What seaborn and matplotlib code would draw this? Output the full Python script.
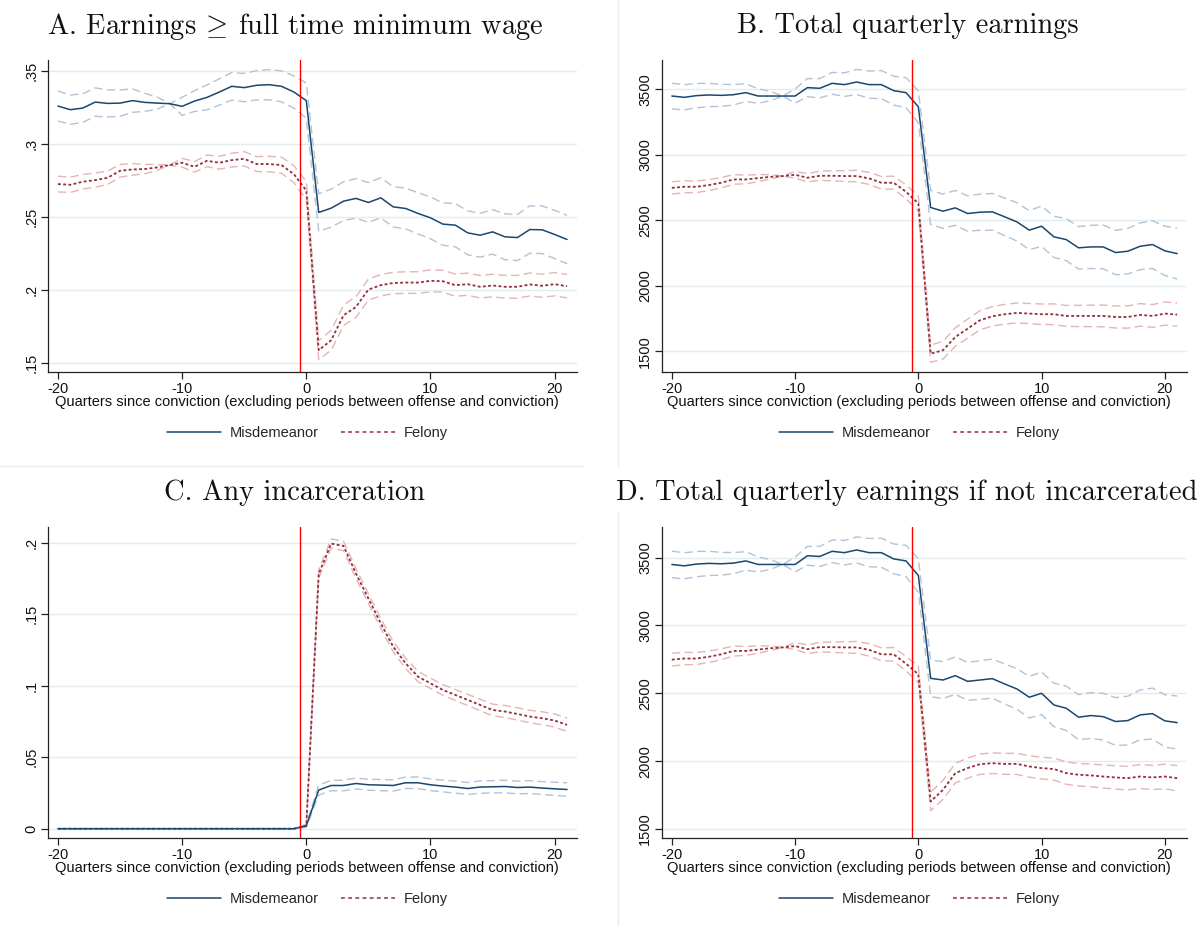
import numpy as np
import pandas as pd
import matplotlib
matplotlib.use("Agg")
import matplotlib.pyplot as plt
from matplotlib.lines import Line2D
import seaborn as sns

# ---------------------------------------------------------------- data
quarters = list(range(-20, 22))

# Panel A: share with earnings >= full-time minimum wage
a_misd = [0.3258, 0.3233, 0.3244, 0.3285, 0.3276, 0.3278, 0.3295, 0.3283, 0.3278, 0.3274,
          0.3256, 0.3292, 0.3317, 0.3354, 0.3393, 0.3384, 0.3400, 0.3404, 0.3393, 0.3354,
          0.3295,
          0.2530, 0.2559, 0.2607, 0.2626, 0.2598, 0.2630, 0.2568, 0.2557, 0.2523, 0.2493,
          0.2450, 0.2443, 0.2390, 0.2374, 0.2397, 0.2363, 0.2358, 0.2413, 0.2411, 0.2379, 0.2345]
a_misd_hw = [0.0103, 0.0100, 0.0098, 0.0097, 0.0093, 0.0090, 0.0080, 0.0062, 0.0041, 0.0,
             0.0062, 0.0071, 0.0085, 0.0090, 0.0094, 0.0097, 0.0100, 0.0103, 0.0106, 0.0110,
             0.0120,
             0.0128, 0.0130, 0.0133, 0.0135, 0.0136, 0.0137, 0.0138, 0.0139, 0.0141, 0.0143,
             0.0145, 0.0148, 0.0150, 0.0150, 0.0152, 0.0157, 0.0158, 0.0162, 0.0163, 0.0165, 0.0166]
a_fel = [0.2724, 0.2719, 0.2740, 0.2751, 0.2767, 0.2815, 0.2824, 0.2827, 0.2838, 0.2854,
         0.2870, 0.2842, 0.2883, 0.2870, 0.2888, 0.2897, 0.2861, 0.2861, 0.2854, 0.2792,
         0.2680,
         0.1587, 0.1655, 0.1826, 0.1883, 0.2002, 0.2032, 0.2047, 0.2050, 0.2050, 0.2062,
         0.2059, 0.2032, 0.2039, 0.2021, 0.2030, 0.2021, 0.2021, 0.2037, 0.2028, 0.2039, 0.2025]
a_fel_hw = [0.0054, 0.0052, 0.0050, 0.0048, 0.0046, 0.0043, 0.0040, 0.0032, 0.0020, 0.0,
            0.0030, 0.0036, 0.0040, 0.0044, 0.0047, 0.0049, 0.0051, 0.0053, 0.0055, 0.0058,
            0.0062,
            0.0065, 0.0068, 0.0070, 0.0071, 0.0072, 0.0073, 0.0073, 0.0074, 0.0074, 0.0075,
            0.0075, 0.0076, 0.0076, 0.0077, 0.0077, 0.0078, 0.0078, 0.0079, 0.0079, 0.0080, 0.0080]

# Panel B: total quarterly earnings
b_misd = [3449, 3439, 3452, 3457, 3454, 3459, 3475, 3449, 3449, 3449,
          3449, 3513, 3508, 3546, 3536, 3556, 3536, 3536, 3490, 3475,
          3367,
          2598, 2570, 2595, 2552, 2562, 2565, 2527, 2488, 2425, 2455,
          2374, 2353, 2290, 2297, 2297, 2254, 2264, 2302, 2315, 2267, 2246]
b_misd_hw = [98, 96, 93, 89, 84, 78, 68, 55, 36, 0,
             54, 69, 74, 83, 90, 96, 104, 107, 110, 115,
             122,
             130, 131, 133, 135, 138, 140, 143, 146, 149, 154,
             157, 160, 162, 165, 167, 169, 174, 178, 182, 188, 194]
b_fel = [2748, 2756, 2756, 2769, 2787, 2812, 2812, 2822, 2832, 2838,
         2848, 2825, 2840, 2840, 2838, 2838, 2820, 2787, 2787, 2718,
         2629,
         1482, 1508, 1609, 1673, 1737, 1767, 1783, 1793, 1788, 1783,
         1783, 1770, 1770, 1770, 1770, 1762, 1762, 1778, 1770, 1788, 1780]
b_fel_hw = [47, 46, 44, 42, 40, 37, 33, 27, 17, 0,
            26, 31, 35, 38, 41, 44, 46, 48, 50, 53,
            58,
            65, 68, 70, 72, 73, 74, 75, 76, 77, 78,
            79, 80, 81, 82, 83, 84, 85, 86, 87, 88, 89]

# Panel C: any incarceration
c_misd = [0.0] * 20 + [0.0020,
          0.0270, 0.0302, 0.0302, 0.0316, 0.0307, 0.0305, 0.0302, 0.0321, 0.0321, 0.0307,
          0.0298, 0.0291, 0.0281, 0.0291, 0.0293, 0.0295, 0.0288, 0.0291, 0.0284, 0.0279, 0.0274]
c_misd_hw = [0.0] * 20 + [0.0010,
             0.0035, 0.0036, 0.0037, 0.0038, 0.0038, 0.0039, 0.0039, 0.0040, 0.0040, 0.0041,
             0.0041, 0.0042, 0.0042, 0.0043, 0.0043, 0.0044, 0.0044, 0.0045, 0.0045, 0.0046, 0.0047]
c_fel = [0.0] * 20 + [0.0020,
         0.1780, 0.1993, 0.1977, 0.1784, 0.1609, 0.1435, 0.1272, 0.1156, 0.1063, 0.1016,
         0.0970, 0.0935, 0.0900, 0.0865, 0.0830, 0.0819, 0.0802, 0.0784, 0.0772, 0.0756, 0.0726]
c_fel_hw = [0.0] * 20 + [0.0010,
            0.0030, 0.0032, 0.0033, 0.0034, 0.0034, 0.0035, 0.0035, 0.0035, 0.0036, 0.0036,
            0.0037, 0.0038, 0.0039, 0.0040, 0.0041, 0.0042, 0.0043, 0.0044, 0.0045, 0.0046, 0.0047]

# Panel D: total quarterly earnings if not incarcerated
d_misd = [3449, 3439, 3452, 3457, 3454, 3459, 3475, 3449, 3449, 3449,
          3449, 3513, 3508, 3546, 3536, 3556, 3536, 3536, 3490, 3475,
          3368,
          2610, 2598, 2630, 2588, 2598, 2608, 2569, 2532, 2471, 2500,
          2414, 2390, 2324, 2336, 2328, 2292, 2299, 2341, 2350, 2297, 2284]
d_misd_hw = [98, 96, 93, 89, 84, 78, 68, 55, 36, 0,
             54, 69, 74, 83, 90, 96, 104, 107, 110, 115,
             124,
             135, 136, 138, 140, 142, 144, 147, 150, 153, 157,
             160, 163, 166, 169, 172, 176, 180, 184, 188, 192, 196]
d_fel = [2748, 2756, 2756, 2769, 2787, 2812, 2812, 2822, 2832, 2838,
         2848, 2825, 2840, 2840, 2838, 2838, 2820, 2787, 2787, 2718,
         2640,
         1703, 1789, 1912, 1949, 1978, 1985, 1980, 1980, 1961, 1949,
         1942, 1912, 1900, 1895, 1887, 1880, 1875, 1887, 1880, 1887, 1875]
d_fel_hw = [47, 46, 44, 42, 40, 37, 33, 27, 17, 0,
            26, 31, 35, 38, 41, 44, 46, 48, 50, 53,
            60,
            68, 70, 72, 74, 75, 76, 77, 78, 79, 80,
            81, 82, 83, 84, 85, 86, 87, 88, 89, 91, 93]

titles = ["A. Earnings $\\!\\geq\\!$ full time minimum wage",
          "B. Total quarterly earnings",
          "C. Any incarceration",
          "D. Total quarterly earnings if not incarcerated"]
series_labels = ["Misdemeanor", "Felony"]
x_label = "Quarters since conviction (excluding periods between offense and conviction)"
x_ticks = [-20, -10, 0, 10, 20]

a_ticks = [0.15, 0.2, 0.25, 0.3, 0.35]
a_ticklabels = [".15", ".2", ".25", ".3", ".35"]
c_ticks = [0, 0.05, 0.1, 0.15, 0.2]
c_ticklabels = ["0", ".05", ".1", ".15", ".2"]
earn_ticks = [1500, 2000, 2500, 3000, 3500]
earn_ticklabels = ["1500", "2000", "2500", "3000", "3500"]

# ---------------------------------------------------------------- style
sns.set_theme(style="white")
plt.rcParams["font.family"] = ["Liberation Sans", "DejaVu Sans"]
plt.rcParams["mathtext.fontset"] = "cm"
plt.rcParams["axes.unicode_minus"] = False

NAVY = "#1a476f"
MAROON = "#942f3c"
NAVY_CI = "#b3c3d5"
MAROON_CI = "#e4b4b8"
GRID = "#e3ecef"
FS = 10.5

W, H = 1203, 926
fig = plt.figure(figsize=(W / 100, H / 100), dpi=100)


def box(left, top, right, bottom):
    return [left / W, 1 - bottom / H, (right - left) / W, (bottom - top) / H]


panels = [
    dict(rect=box(48, 60, 577, 372), ylim=(0.1438, 0.3573), ticks=a_ticks, tl=a_ticklabels,
         misd=a_misd, misd_hw=a_misd_hw, fel=a_fel, fel_hw=a_fel_hw, title_xy=(295, 26)),
    dict(rect=box(662, 60, 1187, 372), ylim=(1342, 3724), ticks=earn_ticks, tl=earn_ticklabels,
         misd=b_misd, misd_hw=b_misd_hw, fel=b_fel, fel_hw=b_fel_hw, title_xy=(908, 26)),
    dict(rect=box(48, 527, 577, 838), ylim=(-0.0065, 0.2109), ticks=c_ticks, tl=c_ticklabels,
         misd=c_misd, misd_hw=c_misd_hw, fel=c_fel, fel_hw=c_fel_hw, title_xy=(295, 493)),
    dict(rect=box(662, 527, 1187, 838), ylim=(1434, 3725), ticks=earn_ticks, tl=earn_ticklabels,
         misd=d_misd, misd_hw=d_misd_hw, fel=d_fel, fel_hw=d_fel_hw, title_xy=(907, 493)),
]

CI_STYLE = (0, (6, 3.2))
FEL_STYLE = (0, (1.6, 1.3))

for p, title in zip(panels, titles):
    ax = fig.add_axes(p["rect"])
    q = np.array(quarters)
    m, mh = np.array(p["misd"]), np.array(p["misd_hw"])
    f, fh = np.array(p["fel"]), np.array(p["fel_hw"])

    df = pd.DataFrame({"quarter": q,
                       "misd": m, "misd_lo": m - mh, "misd_hi": m + mh,
                       "fel": f, "fel_lo": f - fh, "fel_hi": f + fh})

    # horizontal grid
    for t in p["ticks"]:
        ax.axhline(t, color=GRID, lw=1.0, zorder=0)

    # confidence bands (dashed)
    for col, colour in [("misd_lo", NAVY_CI), ("misd_hi", NAVY_CI),
                        ("fel_lo", MAROON_CI), ("fel_hi", MAROON_CI)]:
        sns.lineplot(data=df, x="quarter", y=col, ax=ax, color=colour, lw=1.0,
                     linestyle=CI_STYLE, errorbar=None, sort=False, zorder=2)

    # point estimates
    sns.lineplot(data=df, x="quarter", y="fel", ax=ax, color=MAROON, lw=1.3,
                 linestyle=FEL_STYLE, errorbar=None, sort=False, zorder=3)
    sns.lineplot(data=df, x="quarter", y="misd", ax=ax, color=NAVY, lw=1.1,
                 errorbar=None, sort=False, zorder=4)

    # conviction marker
    ax.axvline(-0.5, color="#ff0000", lw=1.0, zorder=5)

    ax.set_xlim(-20.8, 21.8)
    ax.set_ylim(*p["ylim"])
    ax.set_xticks(x_ticks)
    ax.set_xticklabels([str(t) for t in x_ticks])
    ax.set_yticks(p["ticks"])
    ax.set_yticklabels(p["tl"], rotation=90, va="center")
    ax.tick_params(axis="both", which="both", direction="out", length=5, width=0.9,
                   color="#222222", labelsize=FS, labelcolor="#111111", pad=2,
                   bottom=True, left=True)
    ax.set_xlabel(x_label, fontsize=FS, color="#111111")
    ax.xaxis.set_label_coords(0.49, -0.074)
    ax.set_ylabel("")
    for side in ("top", "right"):
        ax.spines[side].set_visible(False)
    for side in ("left", "bottom"):
        ax.spines[side].set_color("#222222")
        ax.spines[side].set_linewidth(0.9)
    ax.set_facecolor("white")

    handles = [Line2D([], [], color=NAVY, lw=1.1),
               Line2D([], [], color=MAROON, lw=1.1, linestyle=(0, (2.5, 2.2)))]
    ax.legend(handles, series_labels, loc="center", bbox_to_anchor=(0.49, -0.196),
              ncol=2, frameon=False, fontsize=FS, handlelength=3.7,
              handletextpad=0.6, columnspacing=1.5)

    fig.text(p["title_xy"][0] / W, 1 - p["title_xy"][1] / H, title,
             ha="center", va="center", fontsize=20.5, color="#111111",
             family="cmr10")

# faint borders between the combined panels
SEP = "#e6edf0"
fig.add_artist(Line2D([0, 583 / W], [1 - 466 / H, 1 - 466 / H], color=SEP, lw=1.0))
fig.add_artist(Line2D([618 / W, 618 / W], [1, 1 - 466 / H], color=SEP, lw=1.0))
fig.add_artist(Line2D([618 / W, 618 / W], [1 - 512 / H, 0], color=SEP, lw=1.0))

fig.savefig("out.png", dpi=100, facecolor="white")
